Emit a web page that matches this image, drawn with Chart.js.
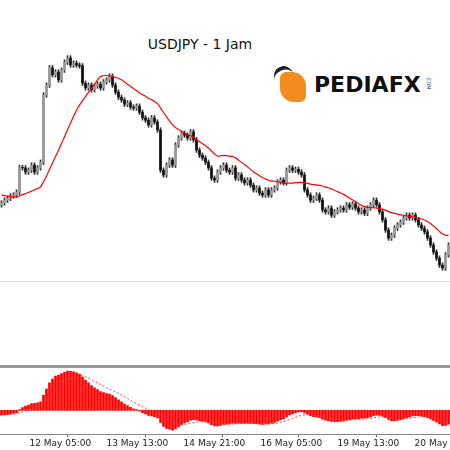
<!DOCTYPE html>
<html>
<head>
<meta charset="utf-8">
<script src="https://cdn.jsdelivr.net/npm/chart.js@4/dist/chart.umd.min.js"></script>
<style>
  body { margin: 0; width: 450px; height: 450px; background: #fff; position: relative; overflow: hidden; font-family: "DejaVu Sans", sans-serif; }
  #main { position: absolute; left: 0; top: 0; }
  #macd { position: absolute; left: 0; top: 368px; }
  .hline { position: absolute; left: 0; width: 450px; }
  #title { position: absolute; left: 0; width: 400px; top: 36px; text-align: center; font-size: 14px; color: #111; font-family: "Comic Sans MS", "DejaVu Sans", sans-serif; }
  #logo { position: absolute; left: 274px; top: 66px; height: 40px; }
  #logo .icon { position: absolute; left: 6px; top: 6px; width: 26px; height: 30px; background: #f28c1f; border-radius: 6px 14px 6px 14px; }
  #logo .icon2 { position: absolute; left: 0px; top: 0px; width: 20px; height: 18px; border-top: 4px solid #222; border-radius: 50% 50% 0 0; transform: rotate(-20deg); }
  #logo .txt { position: absolute; left: 40px; top: 6px; font: bold 22px "DejaVu Sans", sans-serif; color: #111; }
  #logo .com { position: absolute; left: 148px; top: 14px; font: 5px "DejaVu Sans"; transform: rotate(90deg); color: #333; }
</style>
</head>
<body>
<div class="hline" style="top:281px;height:1px;background:#ddd"></div>
<div class="hline" style="top:365px;height:3px;background:#999"></div>
<div id="title">USDJPY - 1 Jam</div>
<div id="logo"><div class="icon"></div><div class="icon2"></div><div class="txt">PEDIAFX</div><div class="com">.COM</div></div>
<canvas id="main" width="450" height="282"></canvas>
<canvas id="macd" width="520" height="82"></canvas>
<script>
// hourly closes before the visible window (for the indicators)
var prevCloses = [145.80, 145.78, 145.75, 145.77, 145.74, 145.70, 145.72, 145.68, 145.66, 145.69,
  145.64, 145.60, 145.62, 145.58, 145.55, 145.52, 145.49, 145.46, 145.43, 145.40];

// visible hourly closes
var closes = [145.44, 145.50, 145.54, 145.59, 145.61, 145.67, 146.20, 146.19, 146.10, 146.14,
  146.25, 146.10, 146.19, 146.31, 147.75, 147.96, 148.33, 148.18, 148.24, 148.07,
  148.28, 148.45, 148.54, 148.39, 148.43, 148.39, 148.37, 148.00, 147.90, 147.96,
  147.86, 147.94, 147.98, 147.90, 148.03, 148.07, 148.15, 147.96, 147.81, 147.70,
  147.64, 147.55, 147.58, 147.49, 147.47, 147.51, 147.38, 147.26, 147.21, 147.11,
  147.26, 147.17, 147.00, 146.14, 146.04, 146.25, 146.36, 146.25, 146.68, 146.83,
  146.93, 146.89, 146.83, 146.96, 146.79, 146.57, 146.46, 146.40, 146.31, 146.19,
  145.97, 145.93, 146.10, 146.19, 146.25, 146.14, 146.10, 146.19, 145.97, 146.04,
  145.93, 145.87, 145.93, 145.82, 145.72, 145.76, 145.65, 145.61, 145.72, 145.61,
  145.72, 145.76, 145.89, 145.93, 145.87, 146.14, 146.19, 146.14, 146.16, 146.10,
  146.04, 145.72, 145.61, 145.50, 145.54, 145.61, 145.50, 145.29, 145.25, 145.33,
  145.18, 145.25, 145.29, 145.33, 145.29, 145.40, 145.35, 145.42, 145.33, 145.25,
  145.29, 145.22, 145.33, 145.40, 145.50, 145.40, 145.25, 145.08, 144.86, 144.69,
  144.75, 144.90, 144.97, 145.03, 145.12, 145.18, 145.12, 145.18, 145.08, 144.97,
  144.90, 144.82, 144.69, 144.54, 144.39, 144.26, 144.11, 144.05, 144.33, 144.54];

var tickIndex = [9.3, 35, 60.7, 86.3, 112, 137.7];
var tickLabels = ["12 May 05:00", "13 May 13:00", "14 May 21:00", "16 May 05:00", "19 May 13:00", "20 May 21:00"];

var all = prevCloses.concat(closes);
var off = prevCloses.length;

function sma(n, i) {
  var s = 0, c = 0;
  for (var k = Math.max(0, i - n + 1); k <= i; k++) { s += all[k]; c++; }
  return s / c;
}
function ema(src, n) {
  var a = 2 / (n + 1), out = [src[0]];
  for (var k = 1; k < src.length; k++) out.push(a * src[k] + (1 - a) * out[k - 1]);
  return out;
}

var candles = closes.map(function(c, i) {
  var o = all[off + i - 1];
  return { x: i, o: o, c: c, hi: Math.max(o, c) + 0.05, lo: Math.min(o, c) - 0.05 };
});
var ma = closes.map(function(c, i) { return { x: i, y: sma(20, off + i) }; });

var e12 = ema(all, 12), e26 = ema(all, 26);
var macdAll = all.map(function(v, k) { return e12[k] - e26[k]; });
var sigAll = ema(macdAll, 9);
var macd = closes.map(function(c, i) { return { x: i, y: macdAll[off + i] }; });
var signal = closes.map(function(c, i) { return { x: i, y: sigAll[off + i] }; });

new Chart(document.getElementById('main'), {
  type: 'bar',
  data: {
    datasets: [
      { type: 'line', data: ma, borderColor: '#ff0000', borderWidth: 1.2, pointRadius: 0, tension: 0.3, order: 0 },
      { data: candles.map(function(d) { return { x: d.x, y: [d.lo, d.hi] }; }), backgroundColor: '#333', barThickness: 1, grouped: false, order: 2 },
      { data: candles.map(function(d) { return { x: d.x, y: [d.o, d.c] }; }),
        backgroundColor: candles.map(function(d) { return d.c >= d.o ? '#999' : '#111'; }),
        barThickness: 2, grouped: false, order: 1 }
    ]
  },
  options: {
    animation: false, responsive: false,
    layout: { padding: 0 },
    plugins: { legend: { display: false }, tooltip: { enabled: false } },
    scales: {
      x: { type: 'linear', offset: false, min: -0.5, max: closes.length - 0.5, display: false },
      y: { display: false, min: 143.75, max: 149.78 }
    }
  }
});

// the macd canvas is wider than the window so the last label is cut, not squeezed
var extraMax = -0.5 + closes.length * 520 / 450;
var mMax = Math.max.apply(null, macd.map(function(d) { return d.y; })) * 1.08;
new Chart(document.getElementById('macd'), {
  type: 'bar',
  data: {
    datasets: [
      { type: 'line', data: signal, borderColor: '#ff4040', borderWidth: 1, borderDash: [2, 2], pointRadius: 0, order: 0 },
      { data: macd, backgroundColor: '#ff0000', barThickness: 2, order: 1 }
    ]
  },
  options: {
    animation: false, responsive: false,
    layout: { padding: 0 },
    plugins: { legend: { display: false }, tooltip: { enabled: false } },
    scales: {
      x: {
        type: 'linear', offset: false, min: -0.5, max: extraMax,
        afterBuildTicks: function(ax) { ax.ticks = tickIndex.map(function(v) { return { value: v }; }); },
        ticks: { autoSkip: false, maxRotation: 0, align: 'start', color: '#222', font: { size: 9, family: 'DejaVu Sans' }, padding: 1,
          callback: function(v) { var k = tickIndex.indexOf(v); return k >= 0 ? tickLabels[k] : ''; } },
        grid: { display: true, drawOnChartArea: false, tickLength: 3, color: '#666' },
        border: { color: '#888' }
      },
      y: { display: false, min: -mMax * 23 / 41, max: mMax }
    }
  }
});
</script>
</body>
</html>
